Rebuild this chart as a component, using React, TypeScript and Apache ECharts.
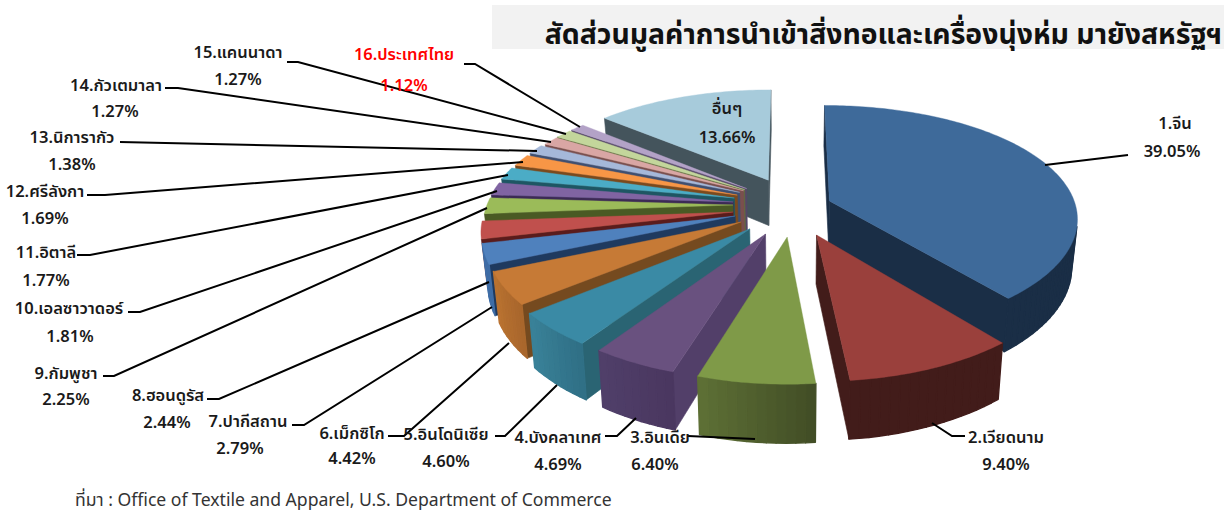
import React, { useEffect, useRef } from "react";
import * as echarts from "echarts";

const names = ["1.จีน","2.เวียดนาม","3.อินเดีย","4.บังคลาเทศ","5.อินโดนิเซีย","6.เม็กซิโก","7.ปากีสถาน","8.ฮอนดูรัส","9.กัมพูชา","10.เอลซาวาดอร์","11.อิตาลี","12.ศรีลังกา","13.นิการากัว","14.กัวเตมาลา","15.แคนนาดา","16.ประเทศไทย","อื่นๆ"];
const values = [39.05,9.40,6.40,4.69,4.60,4.42,2.79,2.44,2.25,1.81,1.77,1.69,1.38,1.27,1.27,1.12,13.66];

const topColors = ["#3e6a9a","#9a403c","#7f9a48","#69517f","#3a8aa5","#c67a36","#4f81bd","#c0504d","#9bbb59","#8064a2","#4bacc6","#f79646","#a5b8d9","#d9a6a4","#c3d69b","#b3a2c7","#a7cbdb"];
const sideColors = ["#1a2e46","#421c1a","#45522a","#523f69","#2a6473","#754a1f","#1f3a5f","#5a1c1c","#4a5a24","#3c2a55","#1e5663","#7a4a1e","#3f4f70","#7a4f4e","#5f6e3c","#554668","#44545c"];
const wallStart = ["#1a2e46","#421c1a","#5e7036","#50406a","#3a8299","#ba7331","#3f6da6","#5a1c1c","#4a5a24","#3c2a55","#1e5663","#7a4a1e","#3f4f70","#7a4f4e","#5f6e3c","#554668","#44545c"];
const wallEnd = ["#1a2e46","#421c1a","#414d25","#4a365f","#2f6f85","#a8662c","#3f6da6","#5a1c1c","#4a5a24","#3c2a55","#1e5663","#7a4a1e","#3f4f70","#7a4f4e","#5f6e3c","#554668","#44545c"];

// explosion of every slice on the pie's plane (x, y), in pie radii
const explodeX = [0.161,0.104,-0.011,-0.096,-0.159,-0.195,-0.22,-0.23,-0.232,-0.232,-0.228,-0.217,-0.208,-0.192,-0.188,-0.18,-0.091];
const explodeY = [-0.036,0.257,0.274,0.249,0.207,0.148,0.097,0.0625,0,-0.027,-0.063,-0.09,-0.115,-0.13,-0.14,-0.15,-0.23];
const drawOrder = [0,16,15,14,13,12,11,10,9,8,7,6,5,4,3,2,1];

const CX = 790, CY = 205, SX = 246, SY = 112, PERSP = 0.16, PERSP_X = 0.14, DEPTH = 47;

// label layout: name x,y / value x,y
const namePos = [[1175,122],[1006,436],[660,436],[558,436],[446,433],[352,432],[248,420],[168,394],[66,372],[69,307],[46,251],[45,190],[72,136],[116,84],[238,51],[404,53],[727,107]];
const valuePos = [[1172,150],[1006,463],[655,463],[558,463],[446,460],[352,457],[240,447],[167,421],[66,398],[70,335],[46,279],[45,217],[72,163],[115,110],[238,78],[404,84],[727,136]];
const leaders = [
  [[1045,165],[1128,155]],
  [[932,423],[952,436],[965,436]],
  [[688,436],[755,439]],
  [[636,418],[617,436],[605,436]],
  [[557,385],[505,436],[495,436]],
  [[509,343],[404,436],[388,436]],
  [[492,307],[304,425],[292,425]],
  [[489,282],[219,399],[207,399]],
  [[487,208],[114,376],[103,376]],
  [[497,191],[140,312],[128,312]],
  [[508,175],[90,255],[77,255]],
  [[523,162],[105,195],[87,195]],
  [[537,151],[120,142]],
  [[551,142],[178,88],[165,88]],
  [[566,134],[298,62],[287,62]],
  [[580,127],[475,64],[464,64]],
];
const titleText = "สัดส่วนมูลค่าการนำเข้าสิ่งทอและเครื่องนุ่งห่ม มายังสหรัฐฯ";
const sourceText = "ที่มา : Office of Textile and Apparel, U.S. Department of Commerce";
const FONT = "'Noto Sans', 'Noto Sans Thai', Tahoma, sans-serif";

function project(X: number, Y: number, down: number): number[] {
  const w = 1 - PERSP * Y;
  let sx = CX + (SX * X) / (1 - PERSP_X * Y);
  const sy = CY + (SY * Y) / w + (down * DEPTH) / w;
  if (down) sx = CX + (sx - CX) * 0.98;
  return [sx, sy];
}
const hex = (c: string) => [1, 3, 5].map((i) => parseInt(c.slice(i, i + 2), 16));
const mix = (a: string, b: string, t: number) => {
  const p = hex(a), q = hex(b);
  return "rgb(" + p.map((v, i) => Math.round(v + (q[i] - v) * t)).join(",") + ")";
};
const area = (pts: number[][]) => {
  let s = 0;
  pts.forEach((p, i) => {
    const q = pts[(i + 1) % pts.length];
    s += p[0] * q[1] - q[0] * p[1];
  });
  return s / 2;
};

const total = values.reduce((a, b) => a + b, 0);
const starts: number[] = [];
values.reduce((acc, v, i) => {
  starts[i] = (acc / total) * 360;
  return acc + v;
}, 0);

function renderSlice(params: any) {
  const i = drawOrder[params.dataIndex];
  const a0 = starts[i];
  const a1 = a0 + (values[i] / total) * 360;
  const ex = explodeX[i], ey = explodeY[i];
  const rim = (deg: number, d: number) => {
    const r = (deg * Math.PI) / 180;
    return project(ex + Math.sin(r), ey - Math.cos(r), d);
  };
  const apex = (d: number) => project(ex, ey, d);
  const children: any[] = [];
  const face = (pts: number[][], fill: string, lw = 0.6) => {
    if (area(pts) < 0) children.push({ type: "polygon", shape: { points: pts }, style: { fill, stroke: fill, lineWidth: lw, lineJoin: "round" }, silent: true });
  };
  face([apex(0), rim(a0, 0), rim(a0, 1), apex(1)], sideColors[i]);
  face([rim(a1, 0), apex(0), apex(1), rim(a1, 1)], sideColors[i]);
  const steps = Math.max(2, Math.ceil((a1 - a0) / 2));
  for (let k = 0; k < steps; k++) {
    const p = a0 + ((a1 - a0) * k) / steps;
    const q = a0 + ((a1 - a0) * (k + 1)) / steps;
    face([rim(p, 0), rim(q, 0), rim(q, 1), rim(p, 1)], mix(wallEnd[i], wallStart[i], (k + 0.5) / steps), 1.4);
  }
  const top = [apex(0)];
  for (let k = 0; k <= steps * 2; k++) top.push(rim(a0 + ((a1 - a0) * k) / (steps * 2), 0));
  children.push({ type: "polygon", shape: { points: top }, style: { fill: topColors[i], stroke: topColors[i], lineWidth: 0.4 }, silent: true });
  return { type: "group", children };
}

export default function App() {
  const ref = useRef<HTMLDivElement>(null);
  useEffect(() => {
    const chart = echarts.init(ref.current!, undefined, { renderer: "svg" });
    const labelColor = (i: number) => (i === 15 ? "#ff0000" : "#1a1a1a");
    const texts: any[] = [];
    names.forEach((n, i) => {
      texts.push({ type: "text", x: namePos[i][0], y: namePos[i][1], z: 20, style: { text: n, font: "600 16.5px " + FONT, fill: labelColor(i), textAlign: "center", textVerticalAlign: "middle" } });
      texts.push({ type: "text", x: valuePos[i][0], y: valuePos[i][1], z: 20, style: { text: values[i].toFixed(2) + "%", font: "600 16.5px " + FONT, fill: labelColor(i), textAlign: "center", textVerticalAlign: "middle" } });
    });
    chart.setOption({
      animation: false,
      backgroundColor: "#ffffff",
      graphic: [
        { type: "rect", shape: { x: 492, y: 5, width: 732, height: 44 }, style: { fill: "#f2f2f2" }, z: 0 },
        { type: "text", x: 1222, y: 33, z: 20, style: { text: titleText, font: "700 28.4px " + FONT, fill: "#111111", textAlign: "right", textVerticalAlign: "middle" } },
        { type: "text", x: 75, y: 499, z: 20, style: { text: sourceText, font: "400 17.6px " + FONT, fill: "#333333", textAlign: "left", textVerticalAlign: "middle" } },
        ...leaders.map((pts) => ({ type: "polyline", z: 10, shape: { points: pts }, style: { stroke: "#000000", lineWidth: 2, fill: "none" } })),
        ...texts,
      ],
      series: [
        {
          type: "custom",
          coordinateSystem: "none",
          silent: true,
          z: 5,
          data: drawOrder.map((i) => ({ name: names[i], value: values[i] })),
          renderItem: renderSlice,
        },
      ],
    });
    return () => chart.dispose();
  }, []);
  return <div ref={ref} style={{ position: "absolute", left: 0, top: 0, width: 1224, height: 510 }} />;
}
